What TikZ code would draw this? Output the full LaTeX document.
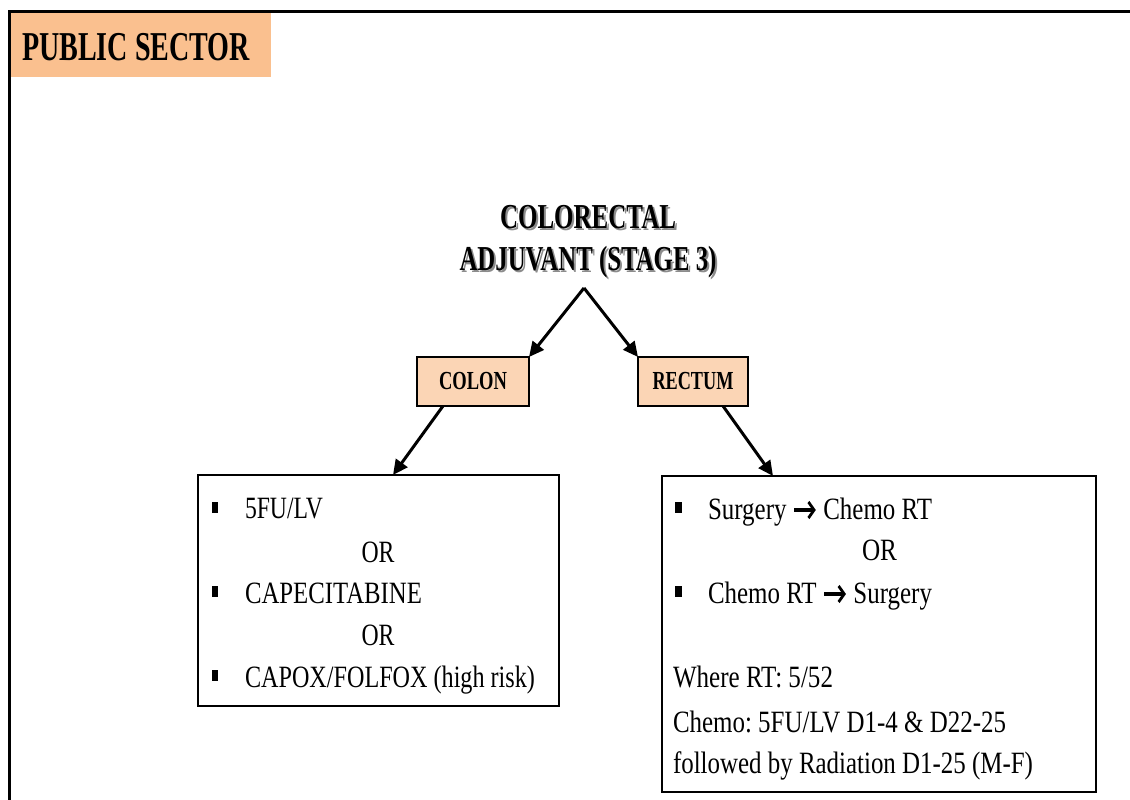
\documentclass[tikz,border=0pt]{standalone}
\usepackage{fontspec}
\setmainfont{Liberation Serif}
\usetikzlibrary{arrows.meta}
\definecolor{hdrfill}{RGB}{250,192,143}
\definecolor{tagfill}{RGB}{251,213,181}
\definecolor{shade}{RGB}{140,140,140}
\frenchspacing
% set a line of text to a given width, keeping its height
\newcommand\fitto[2]{\resizebox{#1}{\height}{#2}}
% bold chevron arrow used inside the text lines
\newcommand\rarr{\tikz[baseline=-9pt]{\draw[line width=3.2pt,-{Straight Barb[length=7pt,width=16pt]}] (0pt,0pt) -- (27pt,0pt);}}
\begin{document}
\begin{tikzpicture}[x=1pt,y=-1pt,
  every node/.style={inner sep=0pt,outer sep=0pt},
  hdr/.style={font=\fontsize{41}{48}\selectfont\bfseries,anchor=base west},
  ttl/.style={font=\fontsize{35}{42}\selectfont\bfseries,anchor=base},
  tagbox/.style={draw,line width=2pt,fill=tagfill,minimum height=49pt,
                 font=\fontsize{26}{30}\selectfont\bfseries},
  listbox/.style={draw,line width=2.2pt,fill=white},
  txt/.style={font=\fontsize{31}{36}\selectfont,anchor=base west},
  ortxt/.style={font=\fontsize{31}{36}\selectfont,anchor=base},
  bul/.style={fill=black,minimum width=6.5pt,minimum height=11pt},
  arr/.style={line width=3pt,-{Triangle[length=15pt,width=14pt]}}]
\useasboundingbox (0,0) rectangle (1130,800);

% outer frame (continues past the right and bottom edges)
\draw[line width=3pt] (9.5,830) -- (9.5,11.5) -- (1150,11.5);

% header band
\fill[hdrfill] (11,13) rectangle (271,77);
\node[hdr] (hdr) at (22,60) {\fitto{228pt}{PUBLIC SECTOR}};

% title with drop shadow
\node[ttl,text=shade] (t1s) at (590,230) {\fitto{176pt}{COLORECTAL}};
\node[ttl,text=shade] (t2s) at (590,272) {\fitto{257pt}{ADJUVANT (STAGE 3)}};
\node[ttl] (t1) at (588,228) {\fitto{176pt}{COLORECTAL}};
\node[ttl] (t2) at (588,270) {\fitto{257pt}{ADJUVANT (STAGE 3)}};
\coordinate (apex) at (584,288);

% site boxes
\node[tagbox,minimum width=112pt] (colon) at (473,381.5) {\fitto{68pt}{COLON}};
\node[tagbox,minimum width=110pt] (rectum) at (693,381.5) {\fitto{81pt}{RECTUM}};

% treatment boxes
\node[listbox,minimum width=361pt,minimum height=231pt,anchor=north west] (lbox) at (198,475) {};
\node[listbox,minimum width=434pt,minimum height=316pt,anchor=north west] (rbox) at (662,476) {};

% connectors
\draw[arr] (apex) -- (colon.north east);
\draw[arr] (apex) -- (rectum.north west);
\draw[arr] ([xshift=26pt]colon.south west) -- ([xshift=195pt]lbox.north west);
\draw[arr] ([xshift=85pt]rectum.south west) -- ([xshift=111pt]rbox.north west);

% colon options
\node[bul] (lb1) at (215,507.5) {};
\node[txt] (l1) at (245,518) {\fitto{78pt}{5FU/LV}};
\node[ortxt] (lor1) at (378,562) {\fitto{33pt}{OR}};
\node[bul] (lb2) at (215,591.5) {};
\node[txt] (l2) at (245,603) {\fitto{177pt}{CAPECITABINE}};
\node[ortxt] (lor2) at (378,645) {\fitto{33pt}{OR}};
\node[bul] (lb3) at (215,675) {};
\node[txt] (l3) at (245,687) {\fitto{290pt}{CAPOX/FOLFOX (high risk)}};

% rectum options
\node[bul] (rb1) at (678.5,507.5) {};
\node[txt] (r1) at (708,519) {\fitto{224pt}{Surgery \rarr{} Chemo RT}};
\node[ortxt] (ror) at (879.5,560) {\fitto{35pt}{OR}};
\node[bul] (rb2) at (678.5,591) {};
\node[txt] (r2) at (708,603) {\fitto{224pt}{Chemo RT \rarr{} Surgery}};
\node[txt] (r3) at (673,687) {\fitto{160pt}{Where RT: 5/52}};
\node[txt] (r4) at (673,732) {\fitto{333pt}{Chemo: 5FU/LV D1-4 \& D22-25}};
\node[txt] (r5) at (673,773) {\fitto{360pt}{followed by Radiation D1-25 (M-F)}};
\end{tikzpicture}
\end{document}
